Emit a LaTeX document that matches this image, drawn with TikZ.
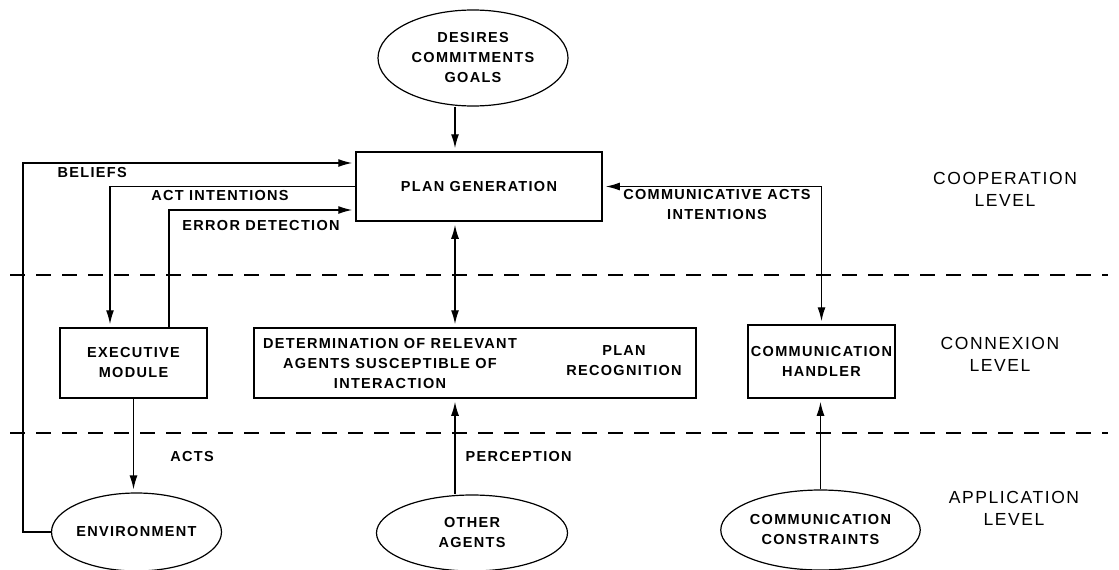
\documentclass[tikz,border=0pt]{standalone}
\usepackage{fontspec}
\setmainfont{Liberation Sans}[LetterSpace=9]
\usetikzlibrary{arrows.meta,shapes.geometric}

\begin{document}
\begin{tikzpicture}[x=1pt,y=-1pt,line width=1.4pt,
	>={Latex[length=14pt,width=8pt]},
	txt/.style={font=\fontsize{14.5}{20}\selectfont\bfseries, align=center, inner sep=0pt},
	box/.style={draw, rectangle, line width=1.5pt, inner sep=0pt},
	oval/.style={draw, ellipse, line width=1.2pt, inner sep=0pt, font=\fontsize{14.5}{20}\selectfont\bfseries, align=center},
	lvl/.style={font=\fontsize{17.5}{22}\selectfont, align=center, inner sep=0pt},
	arr/.style={->, shorten >=3pt},
	biarr/.style={<->, shorten >=3pt, shorten <=3pt},
	sep/.style={line width=1.2pt, dash pattern=on 15pt off 11pt}]
			%%%%% START %%%%%
			\useasboundingbox (0,0) rectangle (1119,570);
			
			\coordinate (axis) at (455,0);
			
			\node[oval, minimum width=190, minimum height=96] (desires) at (473,58) {DESIRES\\COMMITMENTS\\GOALS};
			\node[box, txt, minimum width=246, minimum height=69] (plan) at (479,186.5) {PLAN GENERATION};
			
			\node[box, txt, minimum width=147, minimum height=70] (exec) at (133.5,363) {EXECUTIVE\\MODULE};
			\node[box, minimum width=442, minimum height=70] (determ) at (475,363) {};
			\node[txt] (relevant) at (390,364) {DETERMINATION OF RELEVANT\\AGENTS SUSCEPTIBLE OF\\INTERACTION};
			\node[txt] (recog) at (624,361) {PLAN\\RECOGNITION};
			\node[box, txt, minimum width=147, minimum height=73] (handler) at (821.5,361.5) {COMMUNICATION\\HANDLER};
			
			\node[oval, minimum width=153, minimum height=78] (env) at (136.5,532) {ENVIRONMENT};
			\node[oval, minimum width=191, minimum height=76] (others) at (472,533) {OTHER\\AGENTS};
			\node[oval, minimum width=167, minimum height=80] (constr) at (820.5,530) {COMMUNICATION\\CONSTRAINTS};
			
			% level separators
			\draw[sep] (10,275) -- (1108,275);
			\draw[sep] (10,433) -- (1108,433);
			
			\draw[arr] (desires.south -| axis) -- (plan.north -| axis);
			\draw[biarr] (plan.south -| axis) -- (determ.north -| axis);
			\draw[arr] (others.north -| axis) -- (determ.south -| axis);
			
			\draw[arr] (env.west) -- ++(-28,0) |- ([yshift=23.5pt]plan.west);
			\draw[arr] (plan.west) -| ([xshift=-23.5pt]exec.north);
			\draw[arr] ([xshift=35.5pt]exec.north) |- ([yshift=-23.5pt]plan.west);
			\draw[arr] (exec.south) -- (exec.south |- env.north);
			
			\draw[biarr] (plan.east) -| (handler.north);
			\draw[arr] (constr.north) -- (constr.north |- handler.south);
			
			\node[txt, anchor=west] (beliefs) at (57,173) {BELIEFS};
			\node[txt] (actint) at (220,196) {ACT INTENTIONS};
			\node[txt] (error) at (261,226) {ERROR DETECTION};
			\node[txt] (acts) at (192,457) {ACTS};
			\node[txt, anchor=west] (percep) at (465,457) {PERCEPTION};
			\node[txt] (commacts) at (717,205) {COMMUNICATIVE ACTS\\INTENTIONS};
			
			\node[lvl] (coop) at (1005,189) {COOPERATION\\LEVEL};
			\node[lvl] (connex) at (1000,354) {CONNEXION\\LEVEL};
			\node[lvl] (appli) at (1014,508) {APPLICATION\\LEVEL};
			%%%%% END %%%%%
\end{tikzpicture}
\end{document}
